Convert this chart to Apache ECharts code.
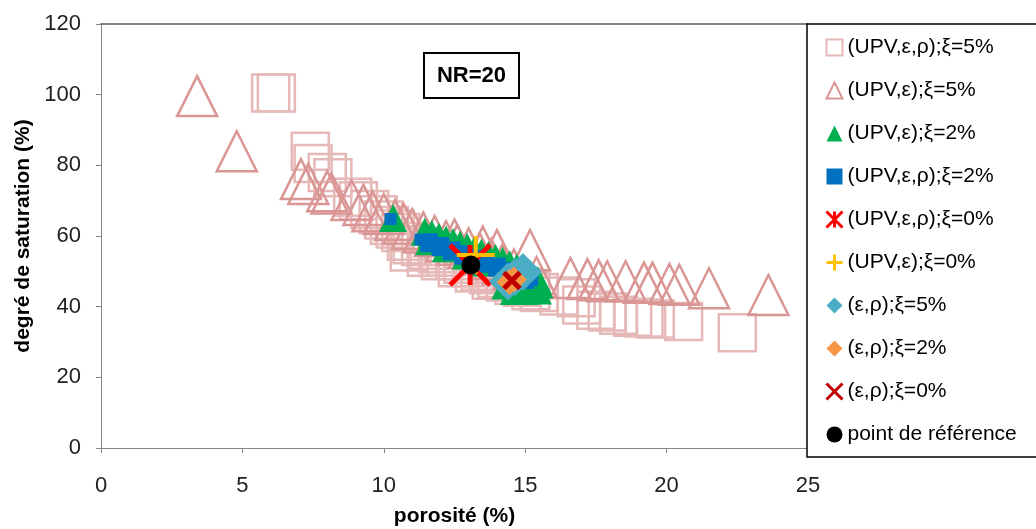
<!DOCTYPE html>
<html><head><meta charset="utf-8">
<script src="https://cdn.jsdelivr.net/npm/echarts@6/dist/echarts.min.js"></script>
<style>html,body{margin:0;padding:0;background:#fff}#c{width:1036px;height:529px}</style>
</head><body><div id="c"></div>
<script>
const xTicks = [0, 5, 10, 15, 20, 25];
const yTicks = [0, 20, 40, 60, 80, 100, 120];
const names = ['(UPV,ε,ρ);ξ=5%', '(UPV,ε);ξ=5%', '(UPV,ε);ξ=2%', '(UPV,ε,ρ);ξ=2%', '(UPV,ε,ρ);ξ=0%', '(UPV,ε);ξ=0%', '(ε,ρ);ξ=5%', '(ε,ρ);ξ=2%', '(ε,ρ);ξ=0%', 'point de référence'];

const sq5_x = [6.0,6.2,7.4,7.5,8.0,8.2,8.9,9.1,9.5,9.8,10.0,10.2,10.4,10.6,10.8,10.9,11.0,11.3,11.5,11.6,11.9,12.0,12.2,12.5,12.6,12.8,13.1,13.2,13.4,13.7,13.8,14.0,14.3,14.6,14.9,15.2,15.5,16.2,16.8,17.0,17.5,17.9,18.3,18.8,19.2,19.6,20.6,22.5];
const sq5_y = [100.5,100.5,84.0,80.5,78.0,76.5,71.0,70.0,67.5,66.0,64.5,63.0,62.0,61.0,58.5,55.5,57.5,57.0,54.0,56.0,55.0,53.0,54.0,53.0,51.0,52.0,51.0,49.5,50.0,49.0,47.5,48.0,47.0,46.0,45.5,44.5,44.0,43.0,42.5,40.5,39.0,38.5,37.6,37.0,36.8,36.5,35.8,32.6];

const tri5_x = [3.4,4.8,7.07,7.33,8.0,8.15,8.86,9.28,9.6,10.0,10.4,10.7,11.0,11.4,11.8,12.2,12.5,12.6,13.0,13.4,13.5,13.8,14.0,14.2,14.6,15.17,15.4,16.6,17.2,17.6,17.9,18.55,19.2,19.5,20.1,20.45,21.5,23.6];
const tri5_y = [99.6,84.0,76.1,74.7,72.7,72.0,70.2,68.8,67.0,66.2,64.5,63.5,62.0,61.0,60.0,58.5,59.0,57.5,56.5,55.0,57.0,53.5,56.0,52.0,50.5,56.0,48.4,48.1,47.8,47.5,47.2,47.2,46.8,46.8,46.4,46.2,45.2,43.3];

const tri2_x = [10.33,11.45,11.7,11.95,12.2,12.45,12.7,12.95,13.2,13.45,13.7,13.95,14.2,14.45,14.7,14.95,15.2,15.45,15.5,15.45,15.0,14.6,14.3,11.6,12.2,12.9,13.6];
const tri2_y = [65.1,61.2,60.6,59.8,59.0,58.3,57.6,56.9,56.0,55.3,54.6,53.8,53.0,52.0,51.0,50.0,49.0,47.5,46.3,44.6,44.4,44.4,46.0,58.5,56.5,54.5,52.5];

const sq2_x = [10.24,11.3,11.5,11.7,11.9,12.1,12.3,12.5,12.7,12.9,13.1,13.3,13.5,13.7,13.9,14.1,14.3,14.5,14.7,14.9,15.1,15.25];
const sq2_y = [64.8,59.0,57.1,59.1,56.0,58.0,54.8,56.8,53.6,55.7,52.5,54.5,51.3,53.3,50.2,52.2,49.0,51.0,47.8,49.9,46.7,47.5];

const star0_x = [13.05];
const star0_y = [51.8];
const plus0_x = [13.25];
const plus0_y = [54.6];
const dia5_x = [14.39,14.64,14.92];
const dia5_y = [47.1,48.4,49.8];
const dia2_x = [14.45,14.6];
const dia2_y = [47.0,47.7];
const x0_x = [14.53];
const x0_y = [47.4];
const ref_x = [13.08];
const ref_y = [51.8];

function pts(xs, ys) { return xs.map((v, i) => [v, ys[i]]); }

const STAR = 'path://M0,0L20,20M20,0L0,20M10,0L10,20';
const PLUS = 'path://M0,10L20,10M10,0L10,20';
const XMARK = 'path://M0,0L20,20M20,0L0,20';
const FONT = 'Liberation Sans';

function sc(name, data, symbol, size, itemStyle) {
  itemStyle.opacity = 1;
  return { name, type: 'scatter', data, symbol, symbolSize: size, itemStyle, emphasis: { disabled: true }, animation: false };
}

const series = [
  sc(names[0], pts(sq5_x, sq5_y), 'rect', 37, { color: 'rgba(0,0,0,0)', borderColor: '#e6b9b8', borderWidth: 2.5 }),
  sc(names[1], pts(tri5_x, tri5_y), 'triangle', 40, { color: 'rgba(0,0,0,0)', borderColor: '#d99694', borderWidth: 2.5 }),
  sc(names[2], pts(tri2_x, tri2_y), 'triangle', 28, { color: '#00b050' }),
  sc(names[3], pts(sq2_x, sq2_y), 'rect', 12, { color: '#0070c0' }),
  sc(names[4], pts(star0_x, star0_y), STAR, 40, { color: '#ff0000', borderColor: '#ff0000', borderWidth: 5 }),
  sc(names[5], pts(plus0_x, plus0_y), PLUS, 38, { color: '#ffc000', borderColor: '#ffc000', borderWidth: 4 }),
  sc(names[6], pts(dia5_x, dia5_y), 'diamond', 38, { color: '#4bacc6' }),
  sc(names[7], pts(dia2_x, dia2_y), 'diamond', 26, { color: '#f79646' }),
  sc(names[8], pts(x0_x, x0_y), XMARK, 16, { color: '#c00000', borderColor: '#c00000', borderWidth: 5 }),
  sc(names[9], pts(ref_x, ref_y), 'circle', 19, { color: '#000000' })
];

const chart = echarts.init(document.getElementById('c'), null, { renderer: 'canvas' });
chart.setOption({
  animation: false,
  backgroundColor: '#ffffff',
  textStyle: { fontFamily: FONT },
  grid: { left: 101, right: 228, top: 24, bottom: 81, containLabel: false, outerBoundsMode: 'none' },
  xAxis: [{
    type: 'value', min: xTicks[0], max: xTicks[xTicks.length - 1], interval: 5,
    name: 'porosité (%)', nameLocation: 'middle', nameGap: 58,
    nameTextStyle: { fontFamily: FONT, fontSize: 21, fontWeight: 'bold', color: '#000' },
    axisLine: { show: true, lineStyle: { color: '#868686', width: 1 } },
    axisTick: { show: true, inside: false, length: 5, lineStyle: { color: '#868686' } },
    axisLabel: { fontFamily: FONT, fontSize: 22, color: '#222', margin: 27 },
    splitLine: { show: false }
  }, {
    type: 'value', position: 'top', min: xTicks[0], max: xTicks[xTicks.length - 1],
    axisLine: { show: true, onZero: false, lineStyle: { color: '#595959', width: 1.5 } },
    axisTick: { show: false }, axisLabel: { show: false }, splitLine: { show: false }
  }],
  yAxis: {
    type: 'value', min: yTicks[0], max: yTicks[yTicks.length - 1], interval: 20,
    name: 'degré de saturation (%)', nameLocation: 'middle', nameGap: 66,
    nameTextStyle: { fontFamily: FONT, fontSize: 21, fontWeight: 'bold', color: '#000' },
    axisLine: { show: true, lineStyle: { color: '#868686', width: 1 } },
    axisTick: { show: true, inside: false, length: 5, lineStyle: { color: '#868686' } },
    axisLabel: { fontFamily: FONT, fontSize: 22, color: '#222', margin: 20 },
    splitLine: { show: false }
  },
  legend: {
    orient: 'vertical', left: 807, top: 24,
    padding: [13, 40, 12, 18],
    borderColor: '#000', borderWidth: 1.5, backgroundColor: '#fff',
    itemWidth: 16, itemHeight: 16, itemGap: 22, itemTextGap: 6,
    textStyle: { fontFamily: FONT, fontSize: 21, color: '#000', lineHeight: 21 },
    data: names.map((n, i) => (i === 4 || i === 5 || i === 8) ? { name: n, itemStyle: { borderWidth: 3 } } : n),
    selectedMode: false
  },
  graphic: [{
    type: 'group', left: 423, top: 52, silent: true,
    children: [
      { type: 'rect', shape: { x: 0, y: 0, width: 95, height: 45 }, style: { fill: '#fff', stroke: '#000', lineWidth: 2 } },
      { type: 'text', x: 47.5, y: 23, style: { text: 'NR=20', fontFamily: FONT, fontSize: 22, fontWeight: 'bold', fill: '#000', align: 'center', verticalAlign: 'middle' } }
    ]
  }],
  series
});
</script></body></html>
